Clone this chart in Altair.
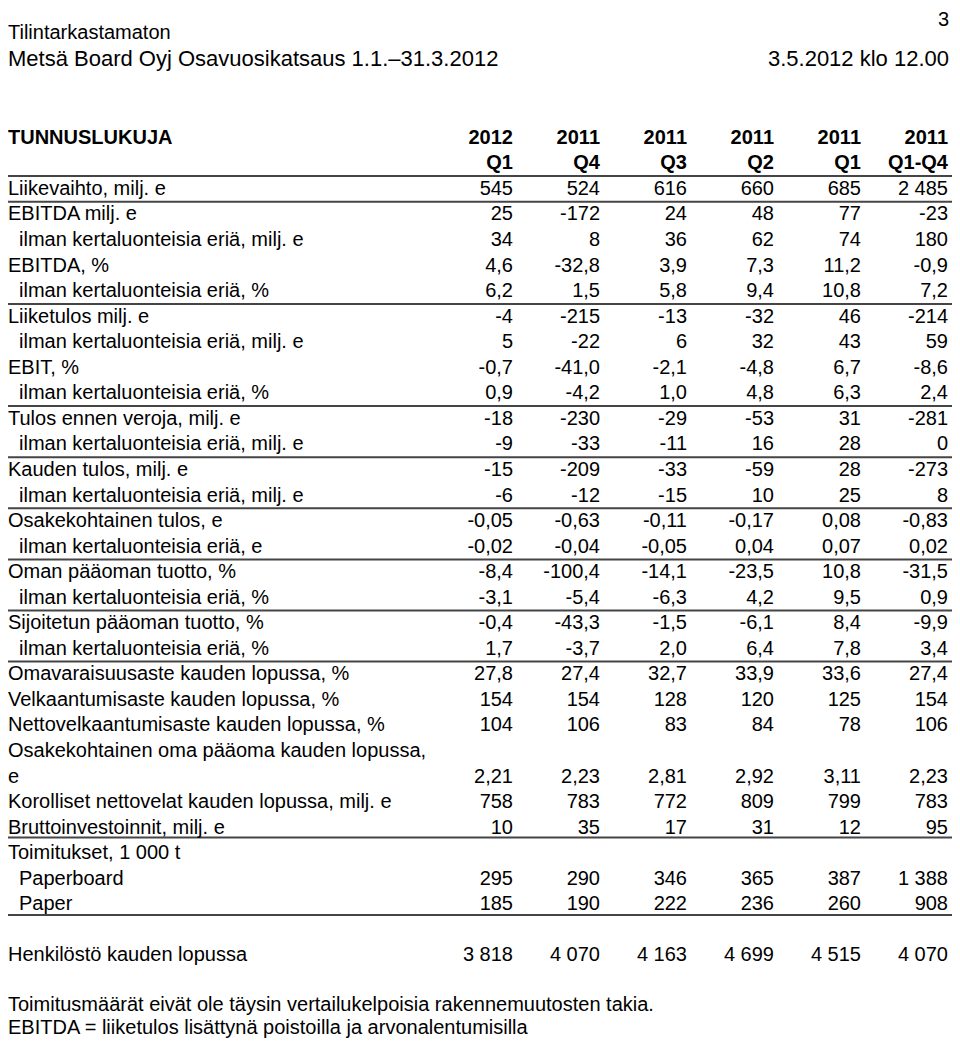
import altair as alt
import pandas as pd

# ---------------- data ----------------
page_number = "3"
doc_status = "Tilintarkastamaton"
doc_title = "Metsä Board Oyj Osavuosikatsaus 1.1.–31.3.2012"
doc_date = "3.5.2012 klo 12.00"
table_title = "TUNNUSLUKUJA"

col_years = ["2012", "2011", "2011", "2011", "2011", "2011"]
col_periods = ["Q1", "Q4", "Q3", "Q2", "Q1", "Q1-Q4"]

row_labels = [
    "Liikevaihto, milj. e",
    "EBITDA milj. e",
    "ilman kertaluonteisia eriä, milj. e",
    "EBITDA, %",
    "ilman kertaluonteisia eriä, %",
    "Liiketulos milj. e",
    "ilman kertaluonteisia eriä, milj. e",
    "EBIT, %",
    "ilman kertaluonteisia eriä, %",
    "Tulos ennen veroja, milj. e",
    "ilman kertaluonteisia eriä, milj. e",
    "Kauden tulos, milj. e",
    "ilman kertaluonteisia eriä, milj. e",
    "Osakekohtainen tulos, e",
    "ilman kertaluonteisia eriä, e",
    "Oman pääoman tuotto, %",
    "ilman kertaluonteisia eriä, %",
    "Sijoitetun pääoman tuotto, %",
    "ilman kertaluonteisia eriä, %",
    "Omavaraisuusaste kauden lopussa, %",
    "Velkaantumisaste kauden lopussa, %",
    "Nettovelkaantumisaste kauden lopussa, %",
    "Osakekohtainen oma pääoma kauden lopussa,",
    "e",
    "Korolliset nettovelat kauden lopussa, milj. e",
    "Bruttoinvestoinnit, milj. e",
    "Toimitukset, 1 000 t",
    "Paperboard",
    "Paper",
    "",
    "Henkilöstö kauden lopussa",
    "",
    "Toimitusmäärät eivät ole täysin vertailukelpoisia rakennemuutosten takia.",
    "EBITDA = liiketulos lisättynä poistoilla ja arvonalentumisilla",
]
# fractional row positions of the two footnote lines (tight at the page bottom)
footnote_rows = [31.95, 32.85]
row_indent = [0, 0, 1, 0, 1, 0, 1, 0, 1, 0, 1, 0, 1, 0, 1, 0, 1, 0, 1,
              0, 0, 0, 0, 0, 0, 0, 0, 1, 1, 0, 0, 0, 0, 0]
row_decimals = [0, 0, 0, 1, 1, 0, 0, 1, 1, 0, 0, 0, 0, 2, 2, 1, 1, 1, 1,
                1, 0, 0, 0, 2, 0, 0, 0, 0, 0, 0, 0, 0, 0, 0]

N = None
val_2012_q1 = [545, 25, 34, 4.6, 6.2, -4, 5, -0.7, 0.9, -18, -9, -15, -6,
               -0.05, -0.02, -8.4, -3.1, -0.4, 1.7, 27.8, 154, 104, N, 2.21,
               758, 10, N, 295, 185, N, 3818, N, N, N]
val_2011_q4 = [524, -172, 8, -32.8, 1.5, -215, -22, -41.0, -4.2, -230, -33,
               -209, -12, -0.63, -0.04, -100.4, -5.4, -43.3, -3.7, 27.4, 154,
               106, N, 2.23, 783, 35, N, 290, 190, N, 4070, N, N, N]
val_2011_q3 = [616, 24, 36, 3.9, 5.8, -13, 6, -2.1, 1.0, -29, -11, -33, -15,
               -0.11, -0.05, -14.1, -6.3, -1.5, 2.0, 32.7, 128, 83, N, 2.81,
               772, 17, N, 346, 222, N, 4163, N, N, N]
val_2011_q2 = [660, 48, 62, 7.3, 9.4, -32, 32, -4.8, 4.8, -53, 16, -59, 10,
               -0.17, 0.04, -23.5, 4.2, -6.1, 6.4, 33.9, 120, 84, N, 2.92,
               809, 31, N, 365, 236, N, 4699, N, N, N]
val_2011_q1 = [685, 77, 74, 11.2, 10.8, 46, 43, 6.7, 6.3, 31, 28, 28, 25,
               0.08, 0.07, 10.8, 9.5, 8.4, 7.8, 33.6, 125, 78, N, 3.11,
               799, 12, N, 387, 260, N, 4515, N, N, N]
val_2011_full = [2485, -23, 180, -0.9, 7.2, -214, 59, -8.6, 2.4, -281, 0,
                 -273, 8, -0.83, 0.02, -31.5, 0.9, -9.9, 3.4, 27.4, 154, 106,
                 N, 2.23, 783, 95, N, 1388, 908, N, 4070, N, N, N]

# separator rules, in row units
separator_rows = [-0.5, 0.5, 4.5, 8.5, 10.5, 12.5, 14.5, 16.5, 18.5, 25.38, 28.42]

# ---------------- tables ----------------
def fi(v, d):
    s = f"{abs(v):,.{d}f}".replace(",", " ").replace(".", ",")
    return ("-" if v < 0 else "") + s

columns = [val_2012_q1, val_2011_q4, val_2011_q3, val_2011_q2, val_2011_q1, val_2011_full]

cells = []
for ci, col in enumerate(columns, start=1):
    for r, v in enumerate(col):
        if v is not None:
            cells.append({"row": r, "col": ci, "txt": fi(v, row_decimals[r])})
cells_df = pd.DataFrame(cells)

head_cells = []
for ci, (yr, per) in enumerate(zip(col_years, col_periods), start=1):
    head_cells.append({"row": -2, "col": ci, "txt": yr})
    head_cells.append({"row": -1, "col": ci, "txt": per})
head_df = pd.DataFrame(head_cells)

row_pos = [float(i) for i in range(len(row_labels))]
row_pos[-2], row_pos[-1] = footnote_rows
labels_df = pd.DataFrame({
    "row": row_pos,
    "label": row_labels,
    "indent": row_indent,
})
labels_df = labels_df[labels_df["label"] != ""]

top_left_df = pd.DataFrame({"row": [-6.1, -5.1], "label": [doc_status, doc_title],
                            "size": [20, 22]})
top_right_df = pd.DataFrame({"row": [-6.62, -5.1], "label": [page_number, doc_date],
                             "size": [20, 22]})
title_df = pd.DataFrame({"row": [-2], "label": [table_title]})
sep_df = pd.DataFrame({"pos": separator_rows})

# ---------------- chart ----------------
W, H = 944, 1032
FONT = "Liberation Sans"
yscale = alt.Scale(domain=[-7.08, 33.31], reverse=True, nice=False, zero=False)
xscale = alt.Scale(domain=[1, 6], range=[505, 940], nice=False, zero=False)

rules = alt.Chart(sep_df).mark_rule(color="#454545", strokeWidth=2).encode(
    y=alt.Y("pos:Q", scale=yscale, axis=None),
    x=alt.value(0), x2=alt.value(W),
)

values = alt.Chart(cells_df).mark_text(
    align="right", baseline="middle", font=FONT, fontSize=20, color="black"
).encode(
    x=alt.X("col:Q", scale=xscale, axis=None),
    y=alt.Y("row:Q", scale=yscale, axis=None),
    text="txt:N",
)

heads = alt.Chart(head_df).mark_text(
    align="right", baseline="middle", font=FONT, fontSize=20,
    fontWeight="bold", color="black"
).encode(
    x=alt.X("col:Q", scale=xscale, axis=None),
    y=alt.Y("row:Q", scale=yscale, axis=None),
    text="txt:N",
)

main_labels = alt.Chart(labels_df).transform_filter("datum.indent == 0").mark_text(
    align="left", baseline="middle", font=FONT, fontSize=20, color="black"
).encode(
    x=alt.value(0),
    y=alt.Y("row:Q", scale=yscale, axis=None),
    text="label:N",
)

sub_labels = alt.Chart(labels_df).transform_filter("datum.indent == 1").mark_text(
    align="left", baseline="middle", font=FONT, fontSize=20, color="black"
).encode(
    x=alt.value(11),
    y=alt.Y("row:Q", scale=yscale, axis=None),
    text="label:N",
)

title = alt.Chart(title_df).mark_text(
    align="left", baseline="middle", font=FONT, fontSize=20,
    fontWeight="bold", color="black"
).encode(
    x=alt.value(0),
    y=alt.Y("row:Q", scale=yscale, axis=None),
    text="label:N",
)

top_left = alt.Chart(top_left_df).mark_text(
    align="left", baseline="middle", font=FONT, color="black"
).encode(
    x=alt.value(0),
    y=alt.Y("row:Q", scale=yscale, axis=None),
    text="label:N",
    size=alt.Size("size:Q", scale=None, legend=None),
)

top_right = alt.Chart(top_right_df).mark_text(
    align="right", baseline="middle", font=FONT, color="black"
).encode(
    x=alt.value(W - 3),
    y=alt.Y("row:Q", scale=yscale, axis=None),
    text="label:N",
    size=alt.Size("size:Q", scale=None, legend=None),
)

chart = alt.layer(
    rules, values, heads, main_labels, sub_labels, title, top_left, top_right
).properties(
    width=W, height=H, autosize=alt.AutoSizeParams(type="none"), padding=0,
    background="white",
).configure_view(stroke=None)

chart.save("out.html", embed_options={"renderer": "svg", "actions": False})
